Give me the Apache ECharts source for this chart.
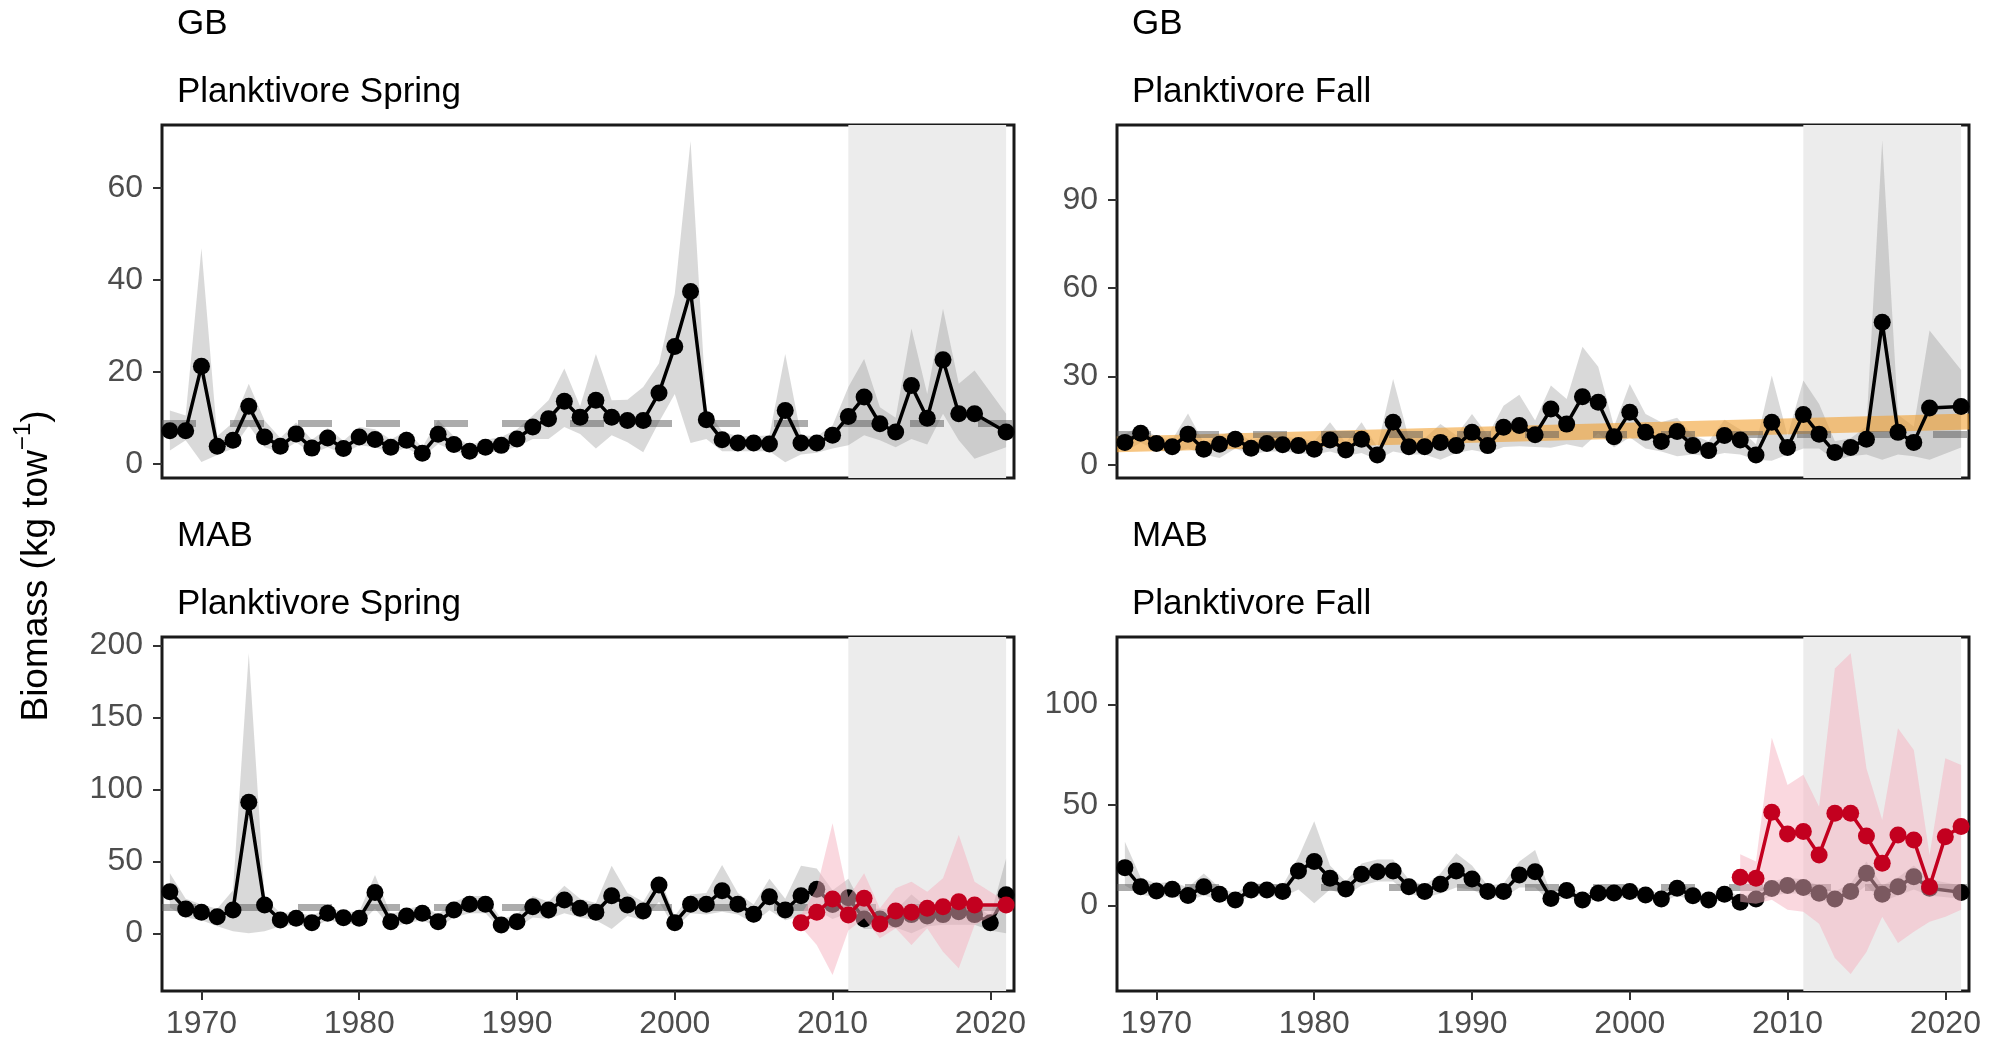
<!DOCTYPE html>
<html>
<head>
<meta charset="utf-8">
<script src="https://cdn.jsdelivr.net/npm/echarts@6/dist/echarts.min.js"></script>
<style>
  html, body { margin: 0; padding: 0; background: #fff; }
  #chart { width: 1997px; height: 1044px; }
</style>
</head>
<body>
<div id="chart"></div>
<script>
// planktivore biomass, GB and MAB, spring and fall surveys

const years = [
  1968, 1969, 1970, 1971, 1972, 1973, 1974, 1975, 1976, 1977,
  1978, 1979, 1980, 1981, 1982, 1983, 1984, 1985, 1986, 1987,
  1988, 1989, 1990, 1991, 1992, 1993, 1994, 1995, 1996, 1997,
  1998, 1999, 2000, 2001, 2002, 2003, 2004, 2005, 2006, 2007,
  2008, 2009, 2010, 2011, 2012, 2013, 2014, 2015, 2016, 2017,
  2018, 2019, 2020, 2021
];
const xTicks = [1970, 1980, 1990, 2000, 2010, 2020];
const shadeYears = [2011, 2021];

// GB spring
const gbSpringVal = [
  7.2, 7.2, 21.2, 3.8, 5.1, 12.5, 5.8, 3.8, 6.5, 3.4,
  5.6, 3.3, 5.8, 5.3, 3.6, 5.1, 2.3, 6.4, 4.2, 2.7,
  3.6, 4.0, 5.4, 8.0, 9.8, 13.6, 10.1, 13.8, 10.1, 9.4,
  9.4, 15.4, 25.5, 37.5, 9.6, 5.2, 4.5, 4.5, 4.3, 11.6,
  4.5, 4.5, 6.2, 10.3, 14.5, 8.7, 6.9, 17.0, 9.9, 22.6,
  10.9, 10.9, null, 6.9
];
const gbSpringHi = [
  11.6, 10.5, 46.9, 6.0, 9.0, 17.4, 9.4, 5.6, 9.0, 5.2,
  7.8, 5.0, 8.0, 7.5, 5.3, 7.2, 3.6, 9.5, 6.0, 4.0,
  5.2, 5.8, 7.5, 10.5, 13.8, 20.7, 12.5, 23.9, 13.8, 13.9,
  16.7, 21.8, 37.0, 70.2, 12.0, 7.0, 6.0, 6.0, 6.2, 23.9,
  6.2, 6.0, 8.3, 16.7, 22.8, 12.3, 10.0, 29.4, 15.2, 33.7,
  17.4, 20.3, null, 10.9
];
const gbSpringLo = [
  2.9, 5.1, 0.4, 1.9, 3.3, 8.3, 3.6, 2.5, 4.7, 2.2,
  3.6, 2.1, 4.0, 3.6, 2.4, 3.5, 1.4, 4.3, 2.8, 1.7,
  2.4, 2.7, 3.7, 5.4, 5.4, 8.0, 6.5, 3.3, 6.2, 4.7,
  2.5, 9.1, 15.2, 4.5, 5.4, 2.7, 2.7, 2.7, 2.7, 0.3,
  2.0, 2.4, 3.3, 4.0, 6.2, 5.1, 3.6, 5.4, 4.2, 10.9,
  5.1, 1.1, null, 3.6
];
const gbSpringMean = 8.8;

// GB fall
const gbFallVal = [
  7.6, 10.7, 7.2, 6.1, 10.4, 5.3, 7.0, 8.7, 5.6, 7.2,
  6.8, 6.5, 5.3, 8.4, 5.0, 8.7, 3.3, 14.4, 6.1, 6.1,
  7.6, 6.5, 11.0, 6.5, 12.7, 13.3, 10.2, 18.9, 13.8, 23.1,
  21.2, 9.5, 17.8, 11.0, 7.9, 11.3, 6.5, 4.8, 9.9, 8.4,
  3.3, 14.4, 5.9, 17.1, 10.4, 4.2, 5.9, 8.7, 48.4, 11.0,
  7.6, 19.3, null, 19.8
];
const gbFallHi = [
  10.5, 13.0, 9.5, 8.5, 17.4, 7.5, 10.0, 11.5, 8.0, 10.0,
  9.5, 9.0, 8.0, 14.4, 7.5, 14.4, 6.0, 29.1, 9.0, 9.0,
  13.8, 10.0, 17.2, 10.0, 20.0, 23.8, 15.0, 26.9, 22.3, 40.1,
  33.3, 13.0, 27.4, 17.2, 14.4, 16.0, 10.0, 8.0, 15.3, 12.0,
  7.0, 30.3, 9.9, 28.6, 20.6, 8.0, 9.0, 13.0, 110.2, 17.0,
  13.0, 45.6, null, 32.2
];
const gbFallLo = [
  4.5, 7.5, 5.0, 4.0, 5.5, 3.5, 2.3, 5.5, 3.5, 4.5,
  4.5, 4.0, 3.5, 4.5, 3.0, 4.0, 1.7, 4.5, 3.5, 3.5,
  1.7, 4.0, 5.0, 4.0, 6.0, 6.3, 6.0, 5.8, 7.0, 5.9,
  10.7, 5.9, 9.3, 5.5, 4.5, 2.9, 3.5, 2.9, 4.0, 3.5,
  1.7, 1.4, 3.5, 5.5, 5.5, 1.5, 2.9, 3.5, 1.7, 3.5,
  2.9, 1.7, null, 5.9
];
const gbFallMean = 10.3;
const gbFallTrendYears = [1968, 2021];
const gbFallTrendVal = [7.0, 14.6];

// MAB spring
const mabSpringVal = [
  28.9, 16.9, 14.6, 11.5, 16.2, 91.1, 19.7, 9.2, 10.4, 7.4,
  13.9, 10.9, 10.4, 28.3, 8.1, 12.0, 13.9, 8.1, 16.2, 20.2,
  20.2, 5.8, 8.1, 18.5, 16.2, 23.2, 17.4, 14.6, 26.1, 19.7,
  15.5, 33.6, 7.4, 20.2, 20.2, 29.6, 20.2, 13.2, 25.5, 16.2,
  26.1, 30.6, 20.0, 24.8, 10.0, 10.0, 10.0, 13.0, 12.0, 13.0,
  15.0, 13.0, 7.4, 26.8
];
const mabSpringHi = [
  41.7, 24.0, 20.0, 17.0, 30.0, 194.7, 25.0, 14.0, 15.0, 12.0,
  18.0, 15.0, 15.0, 40.6, 13.0, 17.0, 19.0, 13.0, 22.0, 26.0,
  26.0, 10.0, 13.0, 26.0, 22.0, 33.0, 24.0, 21.0, 47.0, 28.0,
  22.0, 40.0, 12.0, 27.0, 28.0, 47.5, 28.0, 20.0, 38.0, 24.0,
  47.0, 45.0, 30.0, 38.0, 17.0, 17.0, 16.0, 27.0, 18.0, 20.0,
  22.0, 20.0, 12.0, 52.0
];
const mabSpringLo = [
  18.0, 11.0, 9.0, 5.0, 1.5, 0.0, 1.5, 5.0, 6.0, 4.0,
  9.0, 7.0, 6.0, 17.0, 4.0, 7.0, 9.0, 4.0, 11.0, 14.0,
  14.0, 2.5, 4.0, 11.0, 10.0, 14.0, 11.0, 9.0, 3.0, 12.0,
  9.0, 22.0, 3.5, 14.0, 13.0, 15.0, 13.0, 7.0, 16.0, 9.0,
  12.0, 16.0, 10.0, 14.0, 3.0, 3.0, 4.0, 0.0, 5.0, 6.0,
  6.0, 6.0, 2.0, 0.0
];
const mabSpringMean = 18;
const mabSpringNewYears = [2008, 2009, 2010, 2011, 2012, 2013, 2014, 2015, 2016, 2017, 2018, 2019, 2021];
const mabSpringNewVal = [7.4, 14.6, 23.9, 12.7, 24.3, 6.5, 15.5, 14.6, 17.4, 18.5, 22.0, 19.7, 19.7];
const mabSpringNewHi = [12.7, 31.3, 76.5, 25.0, 41.7, 17.4, 31.3, 35.9, 28.9, 38.2, 68.4, 35.9, 22.0];
const mabSpringNewLo = [4.6, -8.1, -29.0, 2.0, 10.4, -3.5, 3.5, -8.1, 3.5, -12.8, -24.3, 5.8, 17.0];

// MAB fall
const mabFallVal = [
  18.9, 9.4, 7.3, 8.1, 5.0, 9.4, 5.7, 2.8, 7.8, 7.8,
  7.0, 17.2, 21.9, 13.6, 8.3, 15.6, 16.9, 17.2, 9.4, 7.0,
  10.6, 17.2, 13.3, 7.0, 7.0, 15.3, 16.9, 3.6, 7.5, 2.8,
  6.2, 6.3, 7.0, 5.3, 3.3, 8.6, 4.9, 2.8, 5.7, 1.7,
  3.3, 8.5, 10.0, 9.0, 6.2, 3.3, 7.0, 16.1, 5.7, 9.4,
  14.4, 8.7, null, 6.6
];
const mabFallHi = [
  31.8, 14.0, 11.0, 12.0, 9.0, 16.0, 9.0, 6.0, 11.0, 11.0,
  10.0, 24.0, 42.0, 20.0, 12.0, 21.0, 23.0, 23.0, 13.0, 10.0,
  16.0, 26.0, 20.0, 10.0, 11.0, 22.0, 27.7, 6.0, 11.0, 5.0,
  9.0, 9.0, 10.0, 8.0, 6.0, 12.0, 8.0, 5.0, 9.0, 4.0,
  7.0, 12.0, 14.0, 13.0, 10.0, 7.0, 11.0, 22.0, 10.0, 14.0,
  20.0, 13.0, null, 10.0
];
const mabFallLo = [
  10.0, 5.5, 4.0, 5.0, 2.5, 5.0, 3.0, 1.0, 5.0, 5.0,
  4.0, 8.0, 1.2, 8.0, 5.0, 10.0, 12.0, 12.0, 6.0, 4.0,
  6.0, 9.0, 8.0, 4.0, 4.0, 9.0, 9.0, 1.5, 4.5, 1.0,
  3.5, 3.5, 4.0, 3.0, 1.5, 5.0, 2.5, 1.0, 3.0, 0.5,
  1.5, 5.0, 6.0, 6.0, 3.0, 1.0, 4.0, 10.0, 2.0, 5.0,
  8.0, 5.0, null, 3.5
];
const mabFallMean = 9;
const mabFallNewYears = [2007, 2008, 2009, 2010, 2011, 2012, 2013, 2014, 2015, 2016, 2017, 2018, 2019, 2020, 2021];
const mabFallNewVal = [14.1, 13.6, 46.4, 35.6, 36.8, 25.2, 45.9, 45.9, 34.6, 21.1, 35.1, 32.6, 9.4, 34.3, 39.3];
const mabFallNewHi = [25.5, 22.0, 83.5, 60.0, 65.0, 49.2, 117.9, 125.4, 68.2, 42.6, 88.1, 77.3, 25.2, 73.2, 69.9];
const mabFallNewLo = [2.0, 1.0, 3.0, -2.0, -3.0, -9.0, -26.0, -34.0, -23.0, -5.5, -18.5, -13.0, -8.0, -5.5, -2.0];

const FONT = '"Liberation Sans", Arial, Helvetica, sans-serif';
const RED = '#c3001f';

function pairs(xs, ys) {
  return xs.map((x, i) => [x, ys[i]]).filter(p => p[1] != null);
}
function band(xs, lo, hi) {
  return xs.map((x, i) => [x, lo[i], hi[i]]).filter(p => p[1] != null);
}

const panels = [
  { region: 'GB', title: 'Planktivore Spring', val: gbSpringVal, lo: gbSpringLo, hi: gbSpringHi,
    mean: gbSpringMean, yMin: -3.1, yMax: 73.7, yTicks: [0, 20, 40, 60] },
  { region: 'GB', title: 'Planktivore Fall', val: gbFallVal, lo: gbFallLo, hi: gbFallHi,
    mean: gbFallMean, yMin: -4.5, yMax: 115.4, yTicks: [0, 30, 60, 90],
    trend: pairs(gbFallTrendYears, gbFallTrendVal) },
  { region: 'MAB', title: 'Planktivore Spring', val: mabSpringVal, lo: mabSpringLo, hi: mabSpringHi,
    mean: mabSpringMean, yMin: -40.1, yMax: 206, yTicks: [0, 50, 100, 150, 200],
    extra: { x: mabSpringNewYears, val: mabSpringNewVal, lo: mabSpringNewLo, hi: mabSpringNewHi } },
  { region: 'MAB', title: 'Planktivore Fall', val: mabFallVal, lo: mabFallLo, hi: mabFallHi,
    mean: mabFallMean, yMin: -42.4, yMax: 133.5, yTicks: [0, 50, 100],
    extra: { x: mabFallNewYears, val: mabFallNewVal, lo: mabFallNewLo, hi: mabFallNewHi } }
];

const gridPos = [
  { left: 162, top: 125, width: 852, height: 353 },
  { left: 1117, top: 125, width: 852, height: 353 },
  { left: 162, top: 637, width: 852, height: 354 },
  { left: 1117, top: 637, width: 852, height: 354 }
];

function ribbon(idx, data, color, z) {
  return {
    type: 'custom',
    xAxisIndex: idx,
    yAxisIndex: idx,
    z: z,
    silent: true,
    data: data,
    renderItem: function (params, api) {
      if (params.dataIndex !== 0) return;
      const top = data.map(d => api.coord([d[0], d[2]]));
      const bot = data.map(d => api.coord([d[0], d[1]])).reverse();
      return {
        type: 'polygon',
        shape: { points: top.concat(bot) },
        style: { fill: color }
      };
    }
  };
}

const grids = [];
const xAxes = [];
const yAxes = [];
const series = [];
const graphics = [];

panels.forEach((p, i) => {
  const bottom = i >= 2;
  grids.push(Object.assign({ show: true, borderColor: '#1a1a1a', borderWidth: 3, backgroundColor: 'transparent' }, gridPos[i]));
  xAxes.push({
    gridIndex: i, type: 'value', min: 1967.5, max: 2021.5,
    axisLine: { show: false, onZero: false }, splitLine: { show: false },
    axisTick: { show: bottom, length: 9, lineStyle: { color: '#333', width: 2 }, customValues: xTicks },
    axisLabel: { show: bottom, customValues: xTicks, formatter: v => String(v),
      fontSize: 32, color: '#4d4d4d', fontFamily: FONT, margin: 17 }
  });
  yAxes.push({
    gridIndex: i, type: 'value', min: p.yMin, max: p.yMax,
    axisLine: { show: false, onZero: false }, splitLine: { show: false },
    axisTick: { show: true, length: 9, lineStyle: { color: '#333', width: 2 }, customValues: p.yTicks },
    axisLabel: { customValues: p.yTicks, formatter: v => String(v),
      fontSize: 32, color: '#4d4d4d', fontFamily: FONT, margin: 19 }
  });

  const main = pairs(years, p.val);

  // shaded recent window
  series.push({
    type: 'line', xAxisIndex: i, yAxisIndex: i, z: 1, silent: true,
    data: main, showSymbol: false, lineStyle: { opacity: 0 },
    markArea: {
      silent: true,
      itemStyle: { color: '#ececec' },
      data: [[{ xAxis: shadeYears[0] }, { xAxis: shadeYears[1] }]]
    }
  });
  series.push(ribbon(i, band(years, p.lo, p.hi), 'rgba(128,128,128,0.3)', 2));
  // long-term mean
  series.push({
    type: 'line', xAxisIndex: i, yAxisIndex: i, z: 3, silent: true,
    data: main, showSymbol: false, lineStyle: { opacity: 0 },
    markLine: {
      silent: true, symbol: 'none', label: { show: false },
      lineStyle: { color: 'rgba(90,90,90,0.5)', width: 7, type: [34, 34] },
      data: [{ yAxis: p.mean }]
    }
  });
  if (p.trend) {
    series.push({
      type: 'line', xAxisIndex: i, yAxisIndex: i, z: 4, silent: true,
      data: p.trend, showSymbol: false,
      lineStyle: { color: 'rgba(242,160,48,0.6)', width: 16, cap: 'square' }
    });
  }
  series.push({
    type: 'line', xAxisIndex: i, yAxisIndex: i, z: 5,
    data: main, symbol: 'circle', symbolSize: 17, showSymbol: true, connectNulls: true,
    itemStyle: { color: '#000' }, lineStyle: { color: '#000', width: 3.5 }
  });
  if (p.extra) {
    const e = p.extra;
    series.push(ribbon(i, band(e.x, e.lo, e.hi), 'rgba(245,178,192,0.5)', 6));
    series.push({
      type: 'line', xAxisIndex: i, yAxisIndex: i, z: 7,
      data: pairs(e.x, e.val), symbol: 'circle', symbolSize: 17, showSymbol: true,
      itemStyle: { color: RED }, lineStyle: { color: RED, width: 3.5 }
    });
  }

  const tx = gridPos[i].left + 15;
  const ty = gridPos[i].top;
  graphics.push({
    type: 'text', x: tx, y: ty - 101,
    style: { text: p.region, font: '35px ' + FONT, fill: '#000', textVerticalAlign: 'middle' }
  });
  graphics.push({
    type: 'text', x: tx, y: ty - 33,
    style: { text: p.title, font: '35px ' + FONT, fill: '#000', textVerticalAlign: 'middle' }
  });
});

graphics.push({
  type: 'text', x: 33, y: 566, rotation: Math.PI / 2,
  style: {
    text: '{t|Biomass (kg tow}{s|\u22121}{t|)}',
    textAlign: 'center', textVerticalAlign: 'middle',
    rich: {
      t: { fontSize: 37, fontFamily: FONT, fill: '#000', verticalAlign: 'bottom', lineHeight: 44 },
      s: { fontSize: 24, fontFamily: FONT, fill: '#000', verticalAlign: 'top', lineHeight: 44 }
    }
  }
});

const chart = echarts.init(document.getElementById('chart'), null, { renderer: 'canvas' });
chart.setOption({
  animation: false,
  backgroundColor: '#fff',
  grid: grids,
  xAxis: xAxes,
  yAxis: yAxes,
  series: series,
  graphic: graphics
});
</script>
</body>
</html>
